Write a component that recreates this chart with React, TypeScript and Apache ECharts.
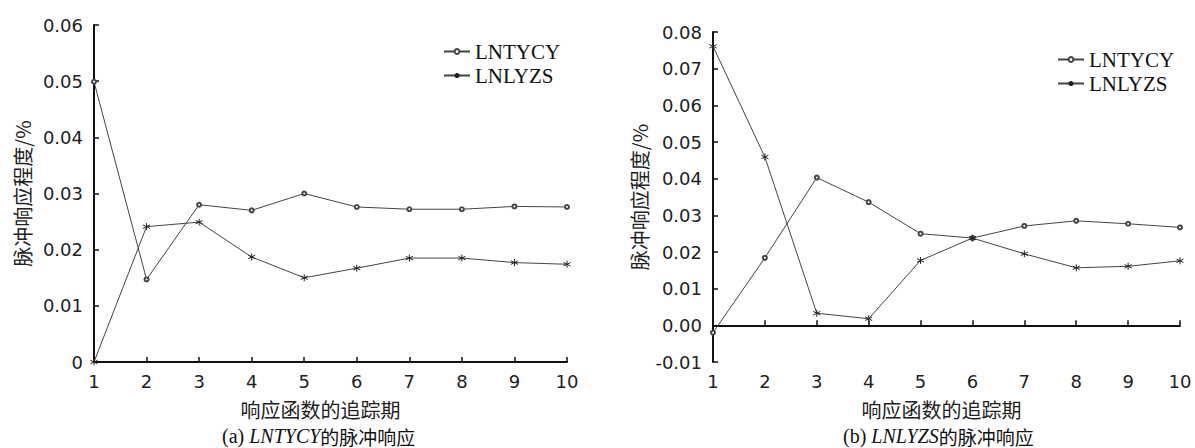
import React, { useEffect, useRef } from "react";
import * as echarts from "echarts";

const periods = [1, 2, 3, 4, 5, 6, 7, 8, 9, 10];
const seriesNames = ["LNTYCY", "LNLYZS"];

// (a) LNTYCY shock
const aLNTYCY = [0.0499, 0.0147, 0.028, 0.027, 0.03, 0.0276, 0.0272, 0.0272, 0.0277, 0.0276];
const aLNLYZS = [0, 0.0241, 0.0249, 0.0187, 0.015, 0.0167, 0.0185, 0.0185, 0.0177, 0.0174];

// (b) LNLYZS shock
const bLNTYCY = [-0.002, 0.0184, 0.0403, 0.0336, 0.025, 0.0238, 0.0271, 0.0285, 0.0277, 0.0267];
const bLNLYZS = [0.0761, 0.0459, 0.0033, 0.0018, 0.0177, 0.0238, 0.0195, 0.0157, 0.0161, 0.0176];

const xAxisTitle = "响应函数的追踪期";
const yAxisTitle = "脉冲响应程度/%";

const STAR = "path://M0,-5L0,5M-4.33,-2.5L4.33,2.5M-4.33,2.5L4.33,-2.5";

const pairs = (vals: number[]) => periods.map((p, i) => [p, vals[i]]);

export default function App() {
  const ref = useRef<HTMLDivElement>(null);

  useEffect(() => {
    if (!ref.current) return;
    const chart = echarts.init(ref.current, null, { renderer: "svg" });

    const axisColor = "#111";
    const labelColor = "#222";
    const lineColor = "#444";
    const numFont = "DejaVu Sans";
    const cjkFont = "Noto Sans CJK SC";

    const mkX = (gridIndex: number, padRight: number) => ({
      type: "value",
      gridIndex,
      min: 1,
      max: 10,
      interval: 1,
      name: xAxisTitle,
      nameLocation: "middle",
      nameGap: 37,
      nameTextStyle: {
        fontFamily: cjkFont,
        fontSize: 20,
        color: labelColor,
        padding: [0, padRight, 0, 0],
      },
      axisLine: { show: true, lineStyle: { color: axisColor, width: 2 } },
      axisTick: { show: true, inside: true, length: 5, lineStyle: { color: axisColor, width: 1.5 } },
      axisLabel: { fontFamily: numFont, fontSize: 18, color: labelColor, margin: 10 },
      splitLine: { show: false },
    });

    const mkY = (gridIndex: number, min: number, max: number, gap: number, fmt?: (v: number) => string) => ({
      type: "value",
      gridIndex,
      min,
      max,
      interval: 0.01,
      name: yAxisTitle,
      nameLocation: "middle",
      nameGap: gap,
      nameRotate: 90,
      nameTextStyle: { fontFamily: cjkFont, fontSize: 20, color: labelColor },
      axisLine: { show: true, lineStyle: { color: axisColor, width: 2 } },
      axisTick: { show: true, inside: true, length: 5, lineStyle: { color: axisColor, width: 1.5 } },
      axisLabel: {
        fontFamily: numFont,
        fontSize: 18,
        color: labelColor,
        margin: 11,
        formatter: fmt,
      },
      splitLine: { show: false },
    });

    const mkSeries = (name: string, vals: number[], idx: number, star: boolean) => ({
      name,
      type: "line",
      xAxisIndex: idx,
      yAxisIndex: idx,
      data: pairs(vals),
      symbol: star ? STAR : "emptyCircle",
      symbolSize: star ? 7 : 4,
      showSymbol: true,
      lineStyle: { color: lineColor, width: 1 },
      itemStyle: star
        ? { color: "none", borderColor: "#222", borderWidth: 1 }
        : { color: lineColor, borderColor: lineColor, borderWidth: 1 },
      emphasis: { disabled: true },
    });

    const legendBase = {
      orient: "vertical",
      itemWidth: 26,
      itemHeight: 6,
      itemGap: 3,
      textStyle: { fontFamily: "Liberation Serif", fontSize: 21, color: "#111" },
      data: seriesNames,
      selectedMode: false,
    };

    const caption = (x: number, letter: string, italic: string) => ({
      type: "text",
      left: x,
      top: 426,
      style: {
        text: `{a|(${letter}) }{i|${italic}}{c|的脉冲响应}`,
        rich: {
          a: { fontFamily: "Liberation Serif", fontSize: 20, fill: "#111" },
          i: { fontFamily: "Liberation Serif", fontSize: 20, fontStyle: "italic", fill: "#111" },
          c: { fontFamily: cjkFont, fontSize: 19, fill: "#111" },
        },
      },
    });

    chart.setOption({
      animation: false,
      backgroundColor: "#fff",
      grid: [
        { left: 94, top: 25, width: 473, height: 337 },
        { left: 713, top: 32, width: 467, height: 330 },
      ],
      xAxis: [mkX(0, 20), mkX(1, 10)],
      yAxis: [
        mkY(0, 0, 0.06, 62, (v: number) => (v === 0 ? "0" : String(Math.round(v * 100) / 100))),
        mkY(1, -0.01, 0.08, 64, (v: number) => v.toFixed(2)),
      ],
      legend: [
        { ...legendBase, left: 438, top: 36 },
        { ...legendBase, left: 1052, top: 44 },
      ],
      series: [
        mkSeries("LNTYCY", aLNTYCY, 0, false),
        mkSeries("LNLYZS", aLNLYZS, 0, true),
        mkSeries("LNTYCY", bLNTYCY, 1, false),
        mkSeries("LNLYZS", bLNLYZS, 1, true),
      ],
      graphic: [caption(222, "a", "LNTYCY"), caption(843, "b", "LNLYZS")],
    });

    return () => chart.dispose();
  }, []);

  return (
    <div
      ref={ref}
      style={{ position: "absolute", left: 0, top: 0, width: 1195, height: 448 }}
    />
  );
}
